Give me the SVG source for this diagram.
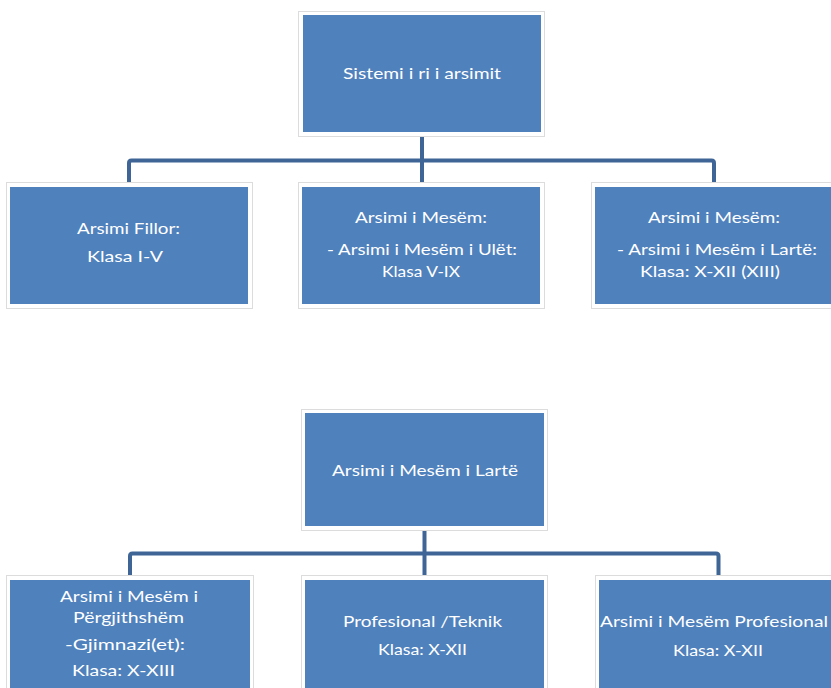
<svg xmlns="http://www.w3.org/2000/svg" width="831" height="688" viewBox="0 0 831 688">
<style>
.bg{fill:#ffffff}
.outline{fill:none;stroke:#DCDCDC;stroke-width:1}
.box{fill:#4F81BD}
.conn{fill:none;stroke:#3E6596;stroke-width:4;stroke-linejoin:round}
text{font-family:Lato,"Open Sans","Liberation Sans",sans-serif;font-size:16px;fill:#ffffff;text-anchor:middle}
</style>
<rect class="bg" x="0" y="0" width="831" height="688"/>
<g id="connectors">
<path class="conn" d="M422,136 V183"/>
<path class="conn" d="M129,183 V163 Q129,160.5 131.5,160.5 H711.5 Q714,160.5 714,163 V183"/>
<path class="conn" d="M424.5,530 V575"/>
<path class="conn" d="M130,575 V556 Q130,553.5 132.5,553.5 H716 Q718.5,553.5 718.5,556 V575"/>
</g>
<g id="top">
<rect class="outline" x="298.5" y="11.5" width="246" height="125"/>
<rect class="box" x="303" y="15" width="238" height="117"/>
<text x="422" y="79" textLength="158" lengthAdjust="spacingAndGlyphs">Sistemi i ri i arsimit</text>
</g>
<g id="fillor">
<rect class="outline" x="6.5" y="182.5" width="246" height="126"/>
<rect class="box" x="10" y="187" width="238" height="117"/>
<text x="128.5" y="234" textLength="103" lengthAdjust="spacingAndGlyphs">Arsimi Fillor:</text>
<text x="125" y="262" textLength="76" lengthAdjust="spacingAndGlyphs">Klasa I-V</text>
</g>
<g id="ulet">
<rect class="outline" x="298.5" y="182.5" width="246" height="126"/>
<rect class="box" x="302" y="187" width="238" height="117"/>
<text x="421" y="223" textLength="132" lengthAdjust="spacingAndGlyphs">Arsimi i Mesëm:</text>
<text x="422" y="255" textLength="190" lengthAdjust="spacingAndGlyphs">- Arsimi i Mesëm i Ulët:</text>
<text x="421" y="277" textLength="78" lengthAdjust="spacingAndGlyphs">Klasa V-IX</text>
</g>
<g id="larte">
<rect class="outline" x="591.5" y="182.5" width="246" height="126"/>
<rect class="box" x="595" y="187" width="238" height="117"/>
<text x="714" y="223" textLength="132" lengthAdjust="spacingAndGlyphs">Arsimi i Mesëm:</text>
<text x="717" y="255" textLength="200" lengthAdjust="spacingAndGlyphs">- Arsimi i Mesëm i Lartë:</text>
<text x="710" y="277" textLength="140" lengthAdjust="spacingAndGlyphs">Klasa: X-XII (XIII)</text>
</g>
<g id="larte-root">
<rect class="outline" x="301.5" y="409.5" width="246" height="121"/>
<rect class="box" x="305" y="413" width="239" height="113"/>
<text x="425" y="476" textLength="186" lengthAdjust="spacingAndGlyphs">Arsimi i Mesëm i Lartë</text>
</g>
<g id="pergjithshem">
<rect class="outline" x="6.5" y="575.5" width="247" height="125"/>
<rect class="box" x="10" y="580" width="240" height="113"/>
<text x="129" y="602" textLength="138" lengthAdjust="spacingAndGlyphs">Arsimi i Mesëm i</text>
<text x="128.5" y="623" textLength="111" lengthAdjust="spacingAndGlyphs">Përgjithshëm</text>
<text x="125" y="650" textLength="120" lengthAdjust="spacingAndGlyphs">-Gjimnazi(et):</text>
<text x="123.5" y="676" textLength="103" lengthAdjust="spacingAndGlyphs">Klasa: X-XIII</text>
</g>
<g id="teknik">
<rect class="outline" x="301.5" y="575.5" width="246" height="125"/>
<rect class="box" x="305" y="580" width="239" height="113"/>
<text x="422.5" y="627" textLength="159" lengthAdjust="spacingAndGlyphs">Profesional /Teknik</text>
<text x="422.5" y="655" textLength="89" lengthAdjust="spacingAndGlyphs">Klasa: X-XII</text>
</g>
<g id="profesional">
<rect class="outline" x="595.5" y="575.5" width="246" height="125"/>
<rect class="box" x="599" y="580" width="239" height="113"/>
<text x="714" y="627" textLength="228" lengthAdjust="spacingAndGlyphs">Arsimi i Mesëm Profesional</text>
<text x="718" y="656" textLength="90" lengthAdjust="spacingAndGlyphs">Klasa: X-XII</text>
</g>
</svg>
